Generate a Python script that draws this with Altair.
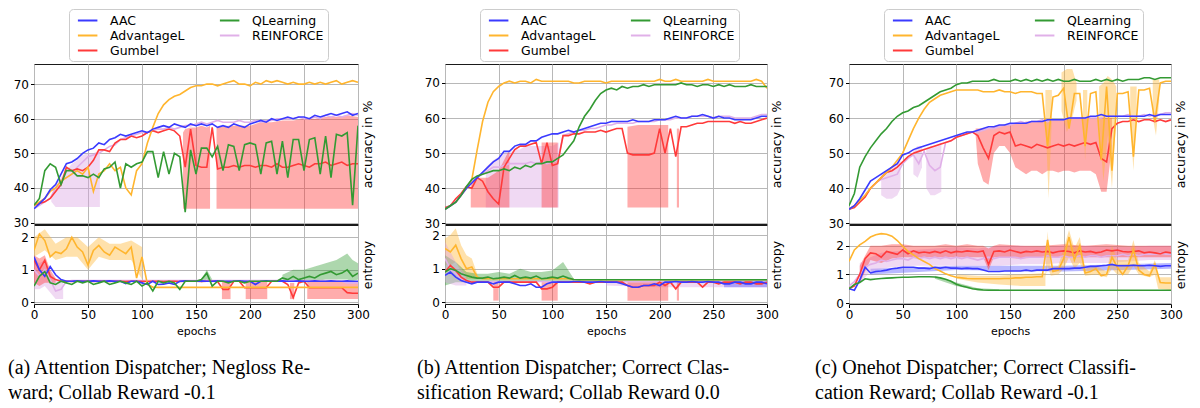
import altair as alt
import pandas as pd

FONT = "DejaVu Sans"
SERIF = "Liberation Serif"

EPOCHS = [0, 5, 10, 15, 20, 25, 30, 35, 40, 45,
          50, 55, 60, 65, 70, 75, 80, 85, 90, 95,
          100, 105, 110, 115, 120, 125, 130, 135, 140, 145,
          150, 155, 160, 165, 170, 175, 180, 185, 190, 195,
          200, 205, 210, 215, 220, 225, 230, 235, 240, 245,
          250, 255, 260, 265, 270, 275, 280, 285, 290, 295,
          300]
XTICKS = [0, 50, 100, 150, 200, 250, 300]
ACC_TICKS = [30, 40, 50, 60, 70]
ENT_TICKS = [0, 1, 2]

SERIES = ["AAC", "AdvantageL", "Gumbel", "QLearning", "REINFORCE"]
DRAW_ORDER = ["REINFORCE", "Gumbel", "AdvantageL", "AAC", "QLearning"]
COLORS = {"AAC": "#3a3aff", "AdvantageL": "#ffb52e", "Gumbel": "#ff3a3a",
          "QLearning": "#339a33", "REINFORCE": "#e0b0e8"}
BAND_COLORS = {"AAC": "#4d4dff", "AdvantageL": "#ffb52e", "Gumbel": "#ff3030",
               "QLearning": "#339a33", "REINFORCE": "#d9a0e0"}

CAPTIONS = [
    ["(a) Attention Dispatcher; Negloss Re-", "ward; Collab Reward -0.1"],
    ["(b) Attention Dispatcher; Correct Clas-", "sification Reward; Collab Reward 0.0"],
    ["(c) Onehot Dispatcher; Correct Classifi-", "cation Reward; Collab Reward -0.1"],
]

# ---------------- panel (a) accuracy ----------------
A_ACC_AAC = [34, 35.5, 37, 39.5, 41, 44, 47, 47.5, 48.5, 50,
             51, 51.5, 53, 52.5, 54, 54.5, 55.5, 55, 55.5, 56,
             56.5, 56, 57, 57.5, 58, 57.5, 58.5, 58, 57.5, 58.5,
             58, 58.5, 58, 58.5, 57.5, 58, 57.5, 58.5, 58, 57.5,
             58.5, 59, 59.5, 59, 60, 59.5, 60, 60.5, 60, 60.5,
             60.5, 60, 61, 60.5, 61, 61.5, 61, 61.5, 62, 61,
             61.5]
A_ACC_ADV = [35, 36, 37, 39, 40, 42, 43, 44, 45, 44,
             46, 39, 44, 45, 47, 45, 46, 40, 38, 45,
             47, 53, 57.5, 61.5, 64, 65.5, 66.5, 67, 68, 69,
             69.5, 69.5, 70, 70, 69.5, 70, 70.5, 71, 70, 70,
             69.5, 70.5, 70, 71, 70.5, 71, 70.5, 70, 70.5, 70,
             70, 70.5, 70, 70.5, 70, 70.5, 71, 70, 70.5, 71,
             70.5]
A_ACC_GUM = [35, 35.5, 36, 37, 39, 41, 46, 45, 45.5, 45,
             46, 48, 51, 51, 50.5, 53, 54, 54, 55, 54.5,
             55, 56, 56.5, 56, 56.5, 57, 56.5, 55, 46, 57,
             46.5, 46, 46, 57.5, 45.5, 46, 46, 46.5, 46, 46.5,
             46.5, 46, 46.5, 46.5, 46, 47, 46, 46, 46.5, 47,
             46.5, 46, 47, 47, 47.5, 46.5, 47, 47.5, 46.5, 47,
             47]
A_ACC_QL = [35, 37, 45, 47, 46, 41, 45, 45, 43.5, 43.5,
            43, 44, 43, 45.5, 46, 47.5, 40, 47, 46, 47,
            47.5, 50.5, 50.5, 43, 50.5, 44, 50, 49, 33, 51,
            44, 51.5, 51.5, 49, 52, 45, 52.5, 52, 45, 52.5,
            53, 52.5, 44, 53, 53.5, 44, 53.5, 43, 54, 54,
            45, 54, 54.5, 44, 55, 43, 55.5, 55, 56, 35,
            58]
A_ACC_REI = [34, 35, 36, 37, 40, 42, 43, 44, 46, 47.5,
             49, 49.5, 50, 51, 52, 52.5, 54, 54.5, 55, 55.5,
             56, 56, 56.5, 57, 57, 57.5, 57, 57.5, 58, 58,
             58.5, 59, 58.5, 59, 59.5, 59, 59, 59, 59.5, 59,
             59, 59.5, 59, 59.5, 59.5, 60, 60, 60, 60, 60.5,
             60, 60, 60.5, 60, 61, 60.5, 61, 60.5, 61, 61.5,
             61]

# ---------------- panel (a) entropy ----------------
A_ENT_AAC = [1.4, 1.0, 0.8, 1.1, 0.85, 0.7, 0.65, 0.65, 0.66, 0.65,
             0.65, 0.66, 0.65, 0.65, 0.66, 0.65, 0.65, 0.58, 0.65, 0.65,
             0.6, 0.55, 0.65, 0.55, 0.56, 0.6, 0.55, 0.65, 0.66, 0.65,
             0.65, 0.66, 0.65, 0.65, 0.66, 0.65, 0.65, 0.65, 0.66, 0.65,
             0.65, 0.55, 0.65, 0.66, 0.65, 0.65, 0.66, 0.65, 0.65, 0.66,
             0.65, 0.65, 0.66, 0.65, 0.65, 0.66, 0.65, 0.65, 0.66, 0.65,
             0.65]
A_ENT_ADV = [1.6, 2.1, 1.9, 1.4, 1.55, 1.5, 1.65, 2.0, 1.7, 1.55,
             1.15, 1.6, 1.75, 1.55, 1.45, 1.7, 1.6, 1.5, 1.7, 0.75,
             1.4, 0.55, 0.47, 0.46, 0.46, 0.46, 0.46, 0.46, 0.46, 0.46,
             0.46, 0.46, 0.46, 0.46, 0.46, 0.46, 0.46, 0.46, 0.46, 0.46,
             0.46, 0.46, 0.46, 0.46, 0.46, 0.46, 0.46, 0.46, 0.46, 0.46,
             0.46, 0.46, 0.46, 0.46, 0.46, 0.46, 0.46, 0.46, 0.46, 0.46,
             0.46]
A_ENT_GUM = [1.3, 1.0, 1.3, 0.8, 0.7, 0.65, 0.65, 0.64, 0.65, 0.65,
             0.65, 0.64, 0.65, 0.65, 0.64, 0.65, 0.65, 0.64, 0.65, 0.65,
             0.65, 0.64, 0.65, 0.65, 0.64, 0.65, 0.65, 0.64, 0.65, 0.65,
             0.65, 0.64, 0.65, 0.65, 0.64, 0.4, 0.4, 0.65, 0.65, 0.45,
             0.45, 0.45, 0.45, 0.45, 0.65, 0.65, 0.65, 0.55, 0.15, 0.6,
             0.65, 0.45, 0.45, 0.45, 0.45, 0.45, 0.45, 0.45, 0.3, 0.28,
             0.28]
A_ENT_QL = [0.5, 0.8, 0.95, 0.6, 0.55, 0.65, 0.6, 0.55, 0.65, 0.6,
            0.65, 0.55, 0.6, 0.65, 0.55, 0.6, 0.65, 0.6, 0.55, 0.65,
            0.5, 0.6, 0.35, 0.65, 0.6, 0.65, 0.6, 0.4, 0.65, 0.65,
            0.65, 0.7, 0.9, 0.5, 0.65, 0.65, 0.6, 0.65, 0.65, 0.6,
            0.65, 0.65, 0.65, 0.65, 0.65, 0.65, 0.75, 0.7, 0.8, 0.7,
            0.75, 0.8, 0.75, 0.85, 0.9, 0.95, 0.85, 0.9, 1.0, 0.8,
            0.9]
A_ENT_REI = [1.0, 0.8, 1.0, 0.7, 0.35, 0.4, 0.65, 0.67, 0.67, 0.67,
             0.67, 0.67, 0.67, 0.67, 0.67, 0.67, 0.67, 0.67, 0.67, 0.67,
             0.67, 0.67, 0.67, 0.67, 0.67, 0.67, 0.67, 0.67, 0.67, 0.67,
             0.67, 0.67, 0.67, 0.67, 0.67, 0.67, 0.67, 0.67, 0.67, 0.67,
             0.67, 0.67, 0.67, 0.67, 0.67, 0.67, 0.67, 0.67, 0.67, 0.67,
             0.67, 0.67, 0.67, 0.67, 0.67, 0.67, 0.67, 0.65, 0.6, 0.6,
             0.6]

# ---------------- panel (b) accuracy ----------------
B_ACC_AAC = [34, 35, 36, 38, 40, 41.5, 43, 44.5, 46, 47.5,
             48.5, 50.5, 50.5, 52, 52.5, 52.5, 53.5, 53.5, 54.5, 55,
             55.5, 55.5, 56, 56.5, 56, 56.5, 57, 57.5, 58, 58.5,
             58.5, 59, 59, 59, 59, 59.5, 59, 59, 59, 59.5,
             59.5, 59.5, 60, 60.5, 60, 60, 60.5, 60.5, 61, 60.5,
             60, 60.5, 60, 60, 59.5, 59.5, 59.5, 59.5, 60, 60.5,
             60.5]
B_ACC_ADV = [34, 35, 36, 38, 40, 42.5, 51, 59, 64.5, 67.5,
             69, 70, 70.5, 70, 70.5, 70.5, 70, 71, 70.5, 70.5,
             70.5, 70.5, 70.5, 70.5, 70, 70, 70.5, 70.5, 70.5, 70.5,
             70, 70.5, 70.5, 70.5, 70.5, 70.5, 70.5, 70.5, 70.5, 70.5,
             71, 70.5, 70.5, 71, 70.5, 70.5, 70.5, 70.5, 70.5, 71,
             70.5, 70.5, 70.5, 70.5, 70.5, 70.5, 70.5, 70.5, 71, 70.5,
             68.5]
B_ACC_GUM = [34.5, 35, 37, 38.5, 40.5, 40, 43, 42, 39, 37,
             35.5, 46, 48.5, 51, 52, 52, 52.5, 53, 47, 53,
             46.5, 47, 55, 55, 55.5, 55.5, 56, 56, 56, 56.5,
             56, 56.5, 57, 57, 50, 49.5, 49.5, 49.5, 49.5, 50,
             57, 50, 57, 49, 57.5, 57.5, 58, 58.5, 58.5, 59,
             59, 59, 59, 59, 58.5, 59, 58.5, 58.5, 59, 59.5,
             60]
B_ACC_QL = [34, 35, 36, 38, 40.5, 42.5, 43.5, 44, 44.5, 45,
            45, 45.5, 45, 46, 45.5, 46.5, 46, 47, 47, 47.5,
            47.5, 48.5, 49.5, 51.5, 53.5, 57.5, 60.5, 62.5, 65, 67,
            68, 68.5, 68, 69, 68.5, 69, 69, 69.5, 69, 69.5,
            69.5, 69.5, 69.5, 69.5, 70, 69.5, 69.5, 69, 69.5, 69.5,
            69, 69.5, 69, 69.5, 69, 69, 69, 69.5, 69, 69,
            69]
B_ACC_REI = [34, 35, 36, 38, 40, 42, 43, 44, 45, 46,
             46, 46.5, 47, 47, 47, 47, 47.5, 47, 47.5, 47,
             47.5, 48, 55, 55.5, 56, 56.5, 56.5, 57, 57, 57.5,
             58, 58, 58.5, 58.5, 58.5, 58.5, 59, 59, 59, 59,
             59.5, 59.5, 59.5, 60, 60, 60, 60.5, 60.5, 60.5, 60.5,
             60, 60.5, 60.5, 60.5, 60, 60, 60, 60, 60.5, 61,
             61]

# ---------------- panel (b) entropy ----------------
B_ENT_AAC = [0.8, 0.9, 0.75, 0.65, 0.6, 0.55, 0.6, 0.6, 0.6, 0.55,
             0.6, 0.6, 0.6, 0.55, 0.5, 0.5, 0.55, 0.45, 0.45, 0.55,
             0.6, 0.6, 0.6, 0.6, 0.62, 0.62, 0.6, 0.6, 0.6, 0.62,
             0.6, 0.6, 0.6, 0.55, 0.5, 0.45, 0.45, 0.5, 0.5, 0.55,
             0.5, 0.6, 0.6, 0.62, 0.6, 0.6, 0.62, 0.6, 0.6, 0.62,
             0.6, 0.6, 0.55, 0.55, 0.6, 0.6, 0.55, 0.55, 0.6, 0.6,
             0.55]
B_ENT_ADV = [1.6, 1.5, 1.7, 1.3, 1.0, 1.05, 0.75, 0.7, 0.7, 0.7,
             0.7, 0.7, 0.7, 0.7, 0.7, 0.7, 0.7, 0.7, 0.7, 0.7,
             0.7, 0.7, 0.7, 0.7, 0.68, 0.67, 0.67, 0.67, 0.67, 0.67,
             0.67, 0.67, 0.67, 0.67, 0.67, 0.67, 0.67, 0.67, 0.67, 0.67,
             0.67, 0.67, 0.67, 0.67, 0.67, 0.67, 0.67, 0.67, 0.67, 0.67,
             0.67, 0.67, 0.67, 0.67, 0.67, 0.67, 0.67, 0.67, 0.67, 0.67,
             0.67]
B_ENT_GUM = [0.9, 1.1, 0.95, 0.75, 0.65, 0.6, 0.6, 0.6, 0.6, 0.45,
             0.45, 0.6, 0.6, 0.6, 0.6, 0.6, 0.6, 0.6, 0.4, 0.4,
             0.45, 0.6, 0.6, 0.6, 0.6, 0.6, 0.6, 0.55, 0.6, 0.6,
             0.6, 0.6, 0.6, 0.6, 0.5, 0.45, 0.45, 0.5, 0.5, 0.5,
             0.6, 0.5, 0.6, 0.4, 0.6, 0.6, 0.6, 0.6, 0.45, 0.6,
             0.6, 0.55, 0.6, 0.6, 0.6, 0.55, 0.6, 0.6, 0.55, 0.55,
             0.6]
B_ENT_QL = [0.9, 1.0, 0.95, 0.85, 0.8, 0.75, 0.72, 0.72, 0.75, 0.7,
            0.72, 0.75, 0.72, 0.8, 0.72, 0.75, 0.72, 0.78, 0.7, 0.72,
            0.75, 0.72, 0.78, 0.72, 0.68, 0.67, 0.67, 0.67, 0.67, 0.67,
            0.67, 0.67, 0.67, 0.67, 0.67, 0.67, 0.67, 0.67, 0.67, 0.67,
            0.67, 0.67, 0.67, 0.67, 0.67, 0.67, 0.67, 0.67, 0.67, 0.67,
            0.67, 0.67, 0.67, 0.67, 0.67, 0.67, 0.67, 0.67, 0.67, 0.67,
            0.67]
B_ENT_REI = [1.3, 1.0, 0.85, 0.7, 0.65, 0.62, 0.62, 0.62, 0.62, 0.62,
             0.62, 0.62, 0.62, 0.62, 0.62, 0.62, 0.62, 0.62, 0.62, 0.62,
             0.62, 0.62, 0.62, 0.62, 0.62, 0.62, 0.62, 0.62, 0.62, 0.62,
             0.62, 0.62, 0.62, 0.62, 0.62, 0.62, 0.62, 0.62, 0.62, 0.62,
             0.62, 0.62, 0.62, 0.62, 0.62, 0.62, 0.62, 0.62, 0.62, 0.62,
             0.62, 0.62, 0.62, 0.62, 0.58, 0.58, 0.58, 0.58, 0.58, 0.58,
             0.58]

# ---------------- panel (c) accuracy ----------------
C_ACC_AAC = [34, 35, 37, 39.5, 42, 43, 44, 45, 46, 47,
             49.5, 50, 51, 51.5, 52, 52.5, 53, 53.5, 54, 54.5,
             55, 55.5, 56, 56, 56.5, 57, 57.5, 57.5, 58, 58,
             58.5, 58.5, 58.5, 58.5, 59, 59, 59, 59.5, 59.5, 59.5,
             59.5, 60, 60, 60, 60, 60.5, 60.5, 61, 60.5, 60.5,
             60.5, 60.5, 60.5, 60.5, 60.5, 60.5, 61, 60.5, 61, 61,
             61]
C_ACC_ADV = [34, 35, 36.5, 38, 40, 41.5, 43, 44.5, 46, 48,
             50, 53.5, 57, 60, 62.5, 64.5, 65.5, 66.5, 67, 67.5,
             68, 68, 68, 68, 68, 67.5, 67.5, 67.5, 68, 67.5,
             67.5, 67, 67.5, 67.5, 67.5, 67, 67, 52, 66, 66.5,
             68.5, 57, 67, 67, 52, 67, 67.5, 48, 69, 45,
             67, 67, 67.5, 49, 68, 68, 68.5, 59, 70, 70.5,
             70.5]
C_ACC_GUM = [34, 34.5, 36, 37.5, 40, 41.5, 43, 44.5, 45, 46,
             47.5, 49, 50, 50.5, 51, 51.5, 52, 52.5, 53, 53.5,
             54.5, 55, 55.5, 56, 55, 51.5, 48.5, 55, 56, 55.5,
             56, 52, 52.5, 52, 51.5, 52.5, 52, 51.5, 52, 52.5,
             52, 52.5, 52, 52.5, 53, 52.5, 53, 48.5, 47.5, 57,
             58.5, 59, 59, 59.5, 59, 59.5, 59.5, 59, 59.5, 59,
             59.5]
C_ACC_QL = [35, 38.5, 46, 49, 51.5, 53.5, 55.5, 57, 59, 60.5,
            61.5, 62, 63, 63.5, 64.5, 65.5, 66.5, 67.5, 68, 68.5,
            69.5, 70, 70, 70.5, 70.5, 70.5, 70.5, 71, 70.5, 70.5,
            70.5, 71, 70.5, 71, 70.5, 71, 70.5, 71, 70.5, 71,
            70.5, 70.5, 71, 70.5, 70.5, 70.5, 71, 70.5, 71, 70.5,
            71, 70.5, 71, 71, 71, 71.5, 71.5, 71, 71.5, 71.5,
            71.5]
C_ACC_REI = [34, 35, 36.5, 38, 40, 41.5, 42.5, 43, 43.5, 44,
             47, 48.5, 49.5, 47, 50.5, 46.5, 45, 46, 53, 53.5,
             54.5, 55, 55.5, 56, 56, 56.5, 57, 57, 57.5, 58,
             58, 58.5, 59, 58.5, 59, 59, 59.5, 59, 59.5, 59.5,
             59.5, 60, 60, 60, 60, 60, 60, 60, 60.5, 60.5,
             60.5, 60.5, 61, 60.5, 60.5, 61, 60.5, 61, 61, 61.5,
             61.5]

# ---------------- panel (c) entropy ----------------
C_ENT_AAC = [0.5, 0.45, 0.8, 1.25, 1.05, 1.1, 1.12, 1.15, 1.2, 1.22,
             1.25, 1.25, 1.25, 1.22, 1.22, 1.2, 1.25, 1.22, 1.25, 1.22,
             1.22, 1.2, 1.22, 1.2, 1.2, 1.15, 1.1, 1.1, 1.1, 1.12,
             1.12, 1.12, 1.12, 1.15, 1.12, 1.15, 1.15, 1.15, 1.2, 1.2,
             1.2, 1.2, 1.22, 1.22, 1.25, 1.28, 1.28, 1.3, 1.32, 1.35,
             1.3, 1.3, 1.3, 1.32, 1.3, 1.3, 1.32, 1.3, 1.28, 1.3,
             1.3]
C_ENT_ADV = [1.45, 1.85, 2.03, 2.15, 2.3, 2.38, 2.42, 2.4, 2.33, 2.18,
             1.98, 1.8, 1.68, 1.55, 1.45, 1.35, 1.2, 1.12, 1.02, 0.95,
             0.9, 0.88, 0.86, 0.85, 0.85, 0.85, 0.85, 0.85, 0.85, 0.86,
             0.86, 0.88, 0.88, 0.9, 0.9, 0.92, 0.92, 2.2, 1.1, 1.15,
             1.55, 2.3, 1.5, 2.0, 1.05, 1.1, 1.2, 0.95, 1.0, 1.6,
             1.25, 1.0, 1.3, 1.85, 1.15, 1.0, 0.95, 1.35, 0.72, 0.7,
             0.7]
C_ENT_GUM = [0.5, 0.6, 1.0, 1.55, 1.75, 1.72, 1.6, 1.8, 1.75, 1.7,
             1.85, 1.72, 1.82, 1.75, 1.78, 1.75, 1.8, 1.75, 1.82, 1.75,
             1.8, 1.78, 1.82, 1.8, 1.78, 1.82, 1.35, 1.8, 1.82, 1.78,
             1.85, 1.8, 1.75, 1.8, 1.78, 1.82, 1.78, 1.8, 1.75, 1.8,
             1.82, 1.8, 1.75, 1.82, 1.78, 1.8, 1.75, 1.78, 1.85, 1.82,
             1.85, 1.8, 1.78, 1.8, 1.82, 1.75, 1.78, 1.75, 1.72, 1.78,
             1.75]
C_ENT_QL = [0.5, 0.65, 0.72, 0.85, 0.82, 0.84, 0.86, 0.87, 0.88, 0.89,
            0.9, 0.9, 0.91, 0.92, 0.92, 0.92, 0.91, 0.88, 0.83, 0.76,
            0.66, 0.6, 0.55, 0.5, 0.48, 0.46, 0.45, 0.45, 0.45, 0.45,
            0.45, 0.45, 0.45, 0.45, 0.45, 0.45, 0.45, 0.45, 0.45, 0.45,
            0.45, 0.45, 0.45, 0.45, 0.45, 0.45, 0.45, 0.45, 0.45, 0.45,
            0.45, 0.45, 0.45, 0.45, 0.45, 0.45, 0.45, 0.45, 0.45, 0.45,
            0.45]
C_ENT_REI = [0.6, 0.75, 1.0, 1.25, 1.35, 1.4, 1.5, 1.45, 1.5, 1.55,
             1.55, 1.5, 1.6, 1.55, 1.6, 1.55, 1.6, 1.55, 1.6, 1.55,
             1.6, 1.55, 1.6, 1.55, 1.5, 1.55, 1.6, 1.55, 1.6, 1.6,
             1.6, 1.6, 1.55, 1.6, 1.6, 1.6, 1.6, 1.65, 1.6, 1.6,
             1.65, 1.6, 1.6, 1.65, 1.6, 1.65, 1.65, 1.6, 1.65, 1.65,
             1.65, 1.7, 1.65, 1.7, 1.65, 1.7, 1.7, 1.7, 1.75, 1.7,
             1.7]

# ---------------- shaded bands: (series, epochs, low, high) segments ----------------
A_ACC_BANDS = [
    ("REINFORCE", [16, 20, 25, 30, 35, 40, 45, 50, 55, 61],
     [36, 34.5, 34.5, 34.5, 34.5, 34.5, 34.5, 34.5, 34.5, 34.5],
     [38, 41, 43, 45, 47, 48, 49.5, 50, 50, 51]),
    ("Gumbel", [138, 140, 145, 150, 155, 160, 163],
     [34, 34, 34, 34, 34, 34, 34],
     [56, 57, 57.5, 57.5, 58, 57.5, 58]),
    ("Gumbel", [169, 180, 190, 200, 210, 220, 230, 240, 250, 260, 270, 280, 290, 300],
     [34, 34, 34, 34, 34, 34, 34, 34, 34, 34, 34, 34, 34, 34],
     [57.5, 58, 58, 58, 59, 59, 59.5, 59.5, 60, 60, 60.5, 60.5, 61, 60.5]),
]
A_ENT_BANDS = [
    ("AdvantageL", [0, 10, 20, 30, 40, 50, 60, 70, 80, 90, 100],
     [1.4, 1.6, 1.3, 1.4, 1.4, 1.0, 1.4, 1.3, 1.3, 1.3, 0.7],
     [2.0, 2.25, 1.8, 2.0, 2.0, 1.7, 2.0, 1.8, 1.8, 1.9, 1.7]),
    ("REINFORCE", [0, 5, 10, 15, 20, 27],
     [0.4, 0.4, 0.5, 0.3, 0.1, 0.1], [1.3, 1.2, 1.3, 0.9, 0.7, 0.7]),
    ("Gumbel", [0, 5, 10, 15, 20],
     [0.6, 0.5, 0.6, 0.6, 0.6], [1.45, 1.35, 1.45, 1.0, 0.75]),
    ("Gumbel", [174, 178, 182], [0.1, 0.1, 0.1], [0.65, 0.65, 0.65]),
    ("Gumbel", [196, 205, 216], [0.1, 0.1, 0.1], [0.65, 0.65, 0.65]),
    ("Gumbel", [237, 241], [0.1, 0.1], [0.6, 0.6]),
    ("Gumbel", [253, 270, 285, 300], [0.1, 0.1, 0.1, 0.1], [0.65, 0.65, 0.65, 0.65]),
    ("QLearning", [155, 160, 165], [0.6, 0.7, 0.6], [0.7, 1.0, 0.7]),
    ("QLearning", [230, 240, 250, 260, 270, 280, 290, 295, 300],
     [0.65, 0.65, 0.6, 0.65, 0.7, 0.7, 0.7, 0.65, 0.7],
     [0.85, 1.0, 1.0, 1.1, 1.2, 1.3, 1.5, 1.3, 1.2]),
]
B_ACC_BANDS = [
    ("REINFORCE", [38, 45, 50, 55, 60, 65, 70, 75, 80, 85, 90, 95, 100, 106],
     [34.5, 34.5, 34.5, 34.5, 34.5, 34.5, 34.5, 34.5, 34.5, 34.5, 34.5, 34.5, 34.5, 34.5],
     [46, 48, 49, 50, 50, 51, 51, 52, 52, 52, 52, 52, 52, 53]),
    ("Gumbel", [24, 30, 35, 40, 45, 50, 55, 60],
     [34.5, 34.5, 34.5, 34.5, 34.5, 34.5, 34.5, 34.5],
     [41, 43, 43, 43, 44, 45, 48, 51]),
    ("Gumbel", [90, 95, 100, 105], [34.5, 34.5, 34.5, 34.5], [53, 53, 53, 53]),
    ("Gumbel", [170, 180, 190, 200, 208], [34.5, 34.5, 34.5, 34.5, 34.5],
     [57.5, 58, 58, 58, 58]),
    ("Gumbel", [216, 218], [34.5, 34.5], [57, 57]),
]
B_ENT_BANDS = [
    ("AdvantageL", [0, 5, 10, 15, 20, 25, 30],
     [1.1, 1.1, 1.2, 0.9, 0.7, 0.7, 0.7], [1.9, 2.0, 2.2, 1.7, 1.4, 1.3, 0.85]),
    ("QLearning", [0, 10, 20, 30, 40, 50, 60, 70, 80, 90, 100, 110, 120],
     [0.5, 0.6, 0.6, 0.6, 0.62, 0.62, 0.62, 0.62, 0.62, 0.62, 0.62, 0.62, 0.62],
     [1.4, 1.2, 0.9, 0.85, 0.85, 0.9, 0.85, 1.0, 0.9, 0.9, 0.95, 1.2, 0.7]),
    ("REINFORCE", [0, 10, 20], [0.6, 0.5, 0.5], [1.8, 1.2, 0.8]),
    ("REINFORCE", [150, 200, 250, 300], [0.5, 0.45, 0.45, 0.45], [0.65, 0.65, 0.65, 0.65]),
    ("AAC", [260, 280, 300], [0.45, 0.45, 0.45], [0.65, 0.65, 0.65]),
    ("Gumbel", [45, 50], [0.05, 0.05], [0.6, 0.6]),
    ("Gumbel", [90, 95, 105], [0.05, 0.05, 0.05], [0.6, 0.6, 0.6]),
    ("Gumbel", [170, 190, 208], [0.05, 0.05, 0.05], [0.6, 0.6, 0.6]),
    ("Gumbel", [216, 218], [0.05, 0.05], [0.6, 0.6]),
]
C_ACC_BANDS = [
    ("REINFORCE", [30, 35, 40, 45, 48], [38, 37, 37, 38, 40], [44, 45, 46, 47, 48]),
    ("REINFORCE", [60, 64, 68], [44, 43, 46], [51, 52, 52]),
    ("REINFORCE", [72, 76, 80, 86], [40, 38, 38, 39], [51, 52, 52, 53]),
    ("Gumbel", [118, 120, 125, 130, 135, 140, 145, 150, 155, 160, 165, 170, 175, 180,
                185, 190, 195, 200, 205, 210, 215, 220, 225, 230, 235, 240, 245],
     [55, 47, 42, 41, 50, 52, 52, 50, 46, 45, 44, 45, 45, 44,
      45, 45, 44.5, 45, 45, 44.5, 45, 45, 45, 44, 39, 39, 52],
     [57, 57, 57, 57, 57.5, 58, 58, 58, 58.5, 58.5, 59, 59, 59, 59,
      59.5, 59.5, 59.5, 59.5, 60, 60, 60, 60, 60, 60, 60, 60, 60]),
    ("AdvantageL", [183, 186, 189], [60, 37, 60], [68, 68, 68]),
    ("AdvantageL", [198, 203, 208, 212], [62, 56, 60, 65], [73, 74, 74, 70]),
    ("AdvantageL", [218, 220, 222], [60, 48, 60], [68, 68, 68]),
    ("AdvantageL", [233, 237, 241, 245, 249], [60, 42, 55, 40, 60], [69, 70, 72, 71, 69]),
    ("AdvantageL", [262, 265, 268], [60, 45, 62], [69, 69, 69]),
    ("AdvantageL", [283, 286, 289], [60, 55, 65], [71, 71, 71]),
]
C_ENT_BANDS = [
    ("AAC", [20, 100, 200, 300], [1.0, 1.15, 1.1, 1.2], [1.2, 1.3, 1.3, 1.4]),
    ("QLearning", [80, 100, 120, 140], [0.85, 0.6, 0.44, 0.42], [0.95, 0.72, 0.52, 0.48]),
    ("REINFORCE", [10, 20, 30, 40, 60, 80, 100, 120, 140, 160, 180, 200, 220, 240, 260, 280, 300],
     [0.7, 1.1, 1.2, 1.25, 1.3, 1.3, 1.3, 1.3, 1.3, 1.35, 1.35, 1.4, 1.4, 1.4, 1.45, 1.5, 1.5],
     [1.4, 1.6, 1.75, 1.8, 1.85, 1.9, 1.95, 1.9, 2.0, 2.0, 1.95, 2.0, 2.0, 1.95, 1.95, 2.0, 2.0]),
    ("Gumbel", [10, 20, 30, 40, 50, 60, 70, 80, 90, 100, 110, 120, 125, 130, 135, 140,
                160, 180, 200, 220, 240, 260, 280, 300],
     [0.7, 1.5, 1.4, 1.55, 1.6, 1.6, 1.6, 1.6, 1.6, 1.6, 1.6, 1.6, 1.6, 1.15, 1.6, 1.6,
      1.55, 1.6, 1.6, 1.6, 1.6, 1.6, 1.6, 1.6],
     [1.3, 2.0, 2.0, 2.05, 2.05, 2.0, 2.0, 2.0, 2.05, 2.0, 2.05, 2.0, 2.0, 1.9, 2.0, 2.05,
      2.0, 2.0, 2.05, 2.0, 2.05, 2.0, 2.0, 2.0]),
    ("AdvantageL", [100, 120, 140, 160, 183], [0.85, 0.72, 0.65, 0.6, 0.6],
     [1.0, 0.95, 0.95, 1.0, 1.05]),
    ("AdvantageL", [183, 185, 188, 195, 200, 205, 210, 215, 220, 230, 240, 245, 250, 260,
                    265, 270, 280, 285, 288, 300],
     [0.9, 1.3, 0.95, 1.0, 1.2, 1.6, 1.2, 1.4, 0.95, 1.0, 0.9, 1.2, 1.0, 1.0,
      1.3, 1.0, 0.9, 1.0, 0.5, 0.45],
     [1.0, 2.5, 1.2, 1.3, 1.9, 2.55, 1.9, 2.3, 1.2, 1.3, 1.1, 2.0, 1.5, 1.5,
      2.2, 1.4, 1.1, 1.5, 0.9, 0.9]),
]

PANELS = [
    {"acc": {"AAC": A_ACC_AAC, "AdvantageL": A_ACC_ADV, "Gumbel": A_ACC_GUM,
             "QLearning": A_ACC_QL, "REINFORCE": A_ACC_REI},
     "ent": {"AAC": A_ENT_AAC, "AdvantageL": A_ENT_ADV, "Gumbel": A_ENT_GUM,
             "QLearning": A_ENT_QL, "REINFORCE": A_ENT_REI},
     "acc_bands": A_ACC_BANDS, "ent_bands": A_ENT_BANDS,
     "acc_dom": [29.6, 75.8], "ent_dom": [-0.05, 2.38], "width": 324},
    {"acc": {"AAC": B_ACC_AAC, "AdvantageL": B_ACC_ADV, "Gumbel": B_ACC_GUM,
             "QLearning": B_ACC_QL, "REINFORCE": B_ACC_REI},
     "ent": {"AAC": B_ENT_AAC, "AdvantageL": B_ENT_ADV, "Gumbel": B_ENT_GUM,
             "QLearning": B_ENT_QL, "REINFORCE": B_ENT_REI},
     "acc_bands": B_ACC_BANDS, "ent_bands": B_ENT_BANDS,
     "acc_dom": [29.8, 75.4], "ent_dom": [-0.05, 2.3], "width": 322},
    {"acc": {"AAC": C_ACC_AAC, "AdvantageL": C_ACC_ADV, "Gumbel": C_ACC_GUM,
             "QLearning": C_ACC_QL, "REINFORCE": C_ACC_REI},
     "ent": {"AAC": C_ENT_AAC, "AdvantageL": C_ENT_ADV, "Gumbel": C_ENT_GUM,
             "QLearning": C_ENT_QL, "REINFORCE": C_ENT_REI},
     "acc_bands": C_ACC_BANDS, "ent_bands": C_ENT_BANDS,
     "acc_dom": [29.8, 75.4], "ent_dom": [-0.03, 2.72], "width": 322},
]
CAPTION_DX = [-26, -28, -34]

COLOR_SCALE = alt.Scale(domain=SERIES, range=[COLORS[n] for n in SERIES])
LEGEND = alt.Legend(
    orient="none", legendX=35, legendY=-55, columns=2, title=None,
    symbolType="M-0.4,0L2.6,0", symbolSize=169, symbolStrokeWidth=2,
    labelFont=FONT, labelFontSize=12.5, labelColor="black", labelOffset=22,
    padding=4, rowPadding=1, columnPadding=30,
    strokeColor="#cccccc", fillColor="white", cornerRadius=4,
)


def subplot(lines, bands, ydom, yticks, height, width, bottom, right_title):
    xscale = alt.Scale(domain=[0, 300], nice=False, zero=False)
    yscale = alt.Scale(domain=ydom, nice=False, zero=False)
    if bottom:
        xaxis = alt.Axis(values=XTICKS, title="epochs", grid=True, domain=False,
                         tickSize=3.5, labelPadding=2, labelFontSize=12, labelFlush=False,
                         titleFontSize=11, titlePadding=5, format="d")
    else:
        xaxis = alt.Axis(values=XTICKS, title=None, grid=True, domain=False,
                         ticks=False, labels=False, labelFlush=False)
    left_axis = alt.Axis(values=yticks, title=None, grid=True, domain=False,
                         tickSize=3.5, labelPadding=2, labelFontSize=12,
                         labelFlush=False, format="d")
    right_axis = alt.Axis(orient="right", values=yticks, title=right_title, grid=False,
                          domain=False, ticks=False, labels=False, titleAngle=270,
                          titleBaseline="top", titlePadding=3, titleFontSize=12.5,
                          titleFontWeight="normal")
    layers = []
    for name, ep, lo, hi in bands:
        df = pd.DataFrame({"epoch": ep, "lo": lo, "hi": hi})
        layers.append(
            alt.Chart(df).mark_area(color=BAND_COLORS[name], opacity=0.4, clip=True).encode(
                x=alt.X("epoch:Q", scale=xscale, axis=xaxis),
                y=alt.Y("lo:Q", scale=yscale, axis=None),
                y2="hi:Q",
            )
        )
    for i, name in enumerate(DRAW_ORDER):
        if i == 0:
            yaxis = left_axis
        elif i == len(DRAW_ORDER) - 1:
            yaxis = right_axis
        else:
            yaxis = None
        df = pd.DataFrame({"epoch": EPOCHS, "value": lines[name], "series": name})
        layers.append(
            alt.Chart(df).mark_line(strokeWidth=1.6, clip=True).encode(
                x=alt.X("epoch:Q", scale=xscale, axis=xaxis),
                y=alt.Y("value:Q", scale=yscale, axis=yaxis),
                color=alt.Color("series:N", scale=COLOR_SCALE, legend=LEGEND),
            )
        )
    return alt.layer(*layers).resolve_axis(y="independent").properties(
        width=width, height=height)


columns = []
for idx, p in enumerate(PANELS):
    for k in ("acc", "ent"):
        for n in SERIES:
            assert len(p[k][n]) == len(EPOCHS), (idx, k, n, len(p[k][n]))
    acc = subplot(p["acc"], p["acc_bands"], p["acc_dom"], ACC_TICKS, 160, p["width"],
                  False, "accuracy in %")
    ent = subplot(p["ent"], p["ent_bands"], p["ent_dom"], ENT_TICKS, 79, p["width"],
                  True, "entropy")
    col = alt.vconcat(acc, ent, spacing=1, bounds="flush").resolve_scale(
        x="independent", y="independent"
    ).properties(
        title=alt.TitleParams(
            text=CAPTIONS[idx], orient="bottom", anchor="start", frame="group",
            dx=CAPTION_DX[idx], offset=21, font=SERIF, fontSize=20,
            fontWeight="normal", color="black", lineHeight=25,
        )
    )
    columns.append(col)

left_pair = alt.hconcat(columns[0], columns[1], spacing=43).resolve_scale(
    color="independent")
chart = alt.hconcat(left_pair, columns[2], spacing=32).resolve_scale(
    color="independent"
).properties(
    padding={"left": 0, "top": 0, "right": 5, "bottom": 0},
    background="white",
).configure_view(
    stroke="#1a1a1a", strokeWidth=1
).configure_axis(
    labelFont=FONT, titleFont=FONT, labelColor="black", titleColor="black",
    tickColor="black", gridColor="#b8b8b8", gridWidth=1, titleFontWeight="normal",
)

chart.save("out.html", embed_options={"renderer": "svg", "actions": False})
